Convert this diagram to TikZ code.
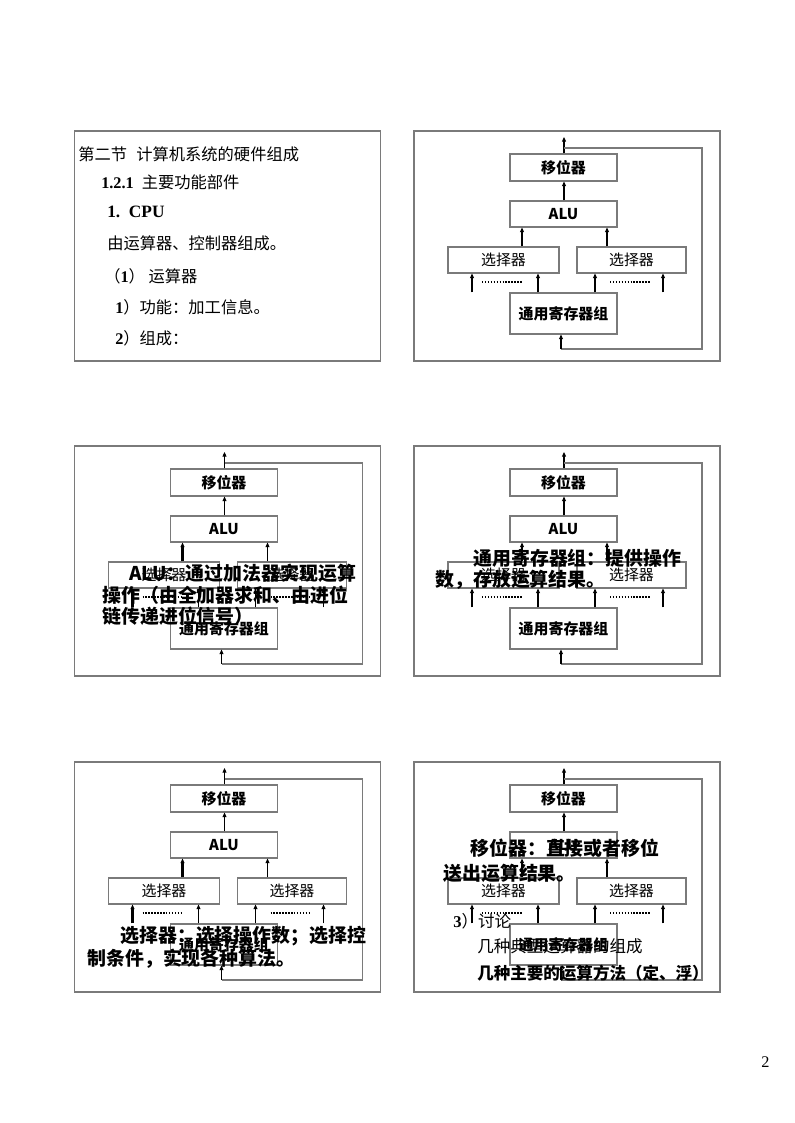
\documentclass[tikz,border=0pt]{standalone}
\usepackage{fontspec}
\setmainfont{Liberation Serif}
\newfontfamily\cjk{Noto Sans CJK SC}
\usetikzlibrary{arrows.meta,calc}
\definecolor{lg}{HTML}{7A7A7A}
\tikzset{
  x=0.75pt, y=-0.75pt,
  slideframe/.style={draw=lg, line width=1.4pt, inner sep=0pt, anchor=north west,
    minimum width=229.5pt, minimum height=172.5pt},
  blk/.style={draw=lg, line width=0.8pt, inner sep=0pt, font=\cjk\bfseries\fontsize{11.2}{13}\selectfont},
  blkr/.style={blk, font=\cjk\fontsize{11.2}{13}\selectfont},
  arr/.style={draw=black, line width=0.8pt, -{Triangle[length=3.5pt,width=3pt]}},
  arrthick/.style={arr, line width=1.7pt},
  dots/.style={draw=black, line width=1.5pt, dash pattern=on 1.1pt off 1.1pt},
  fbline/.style={draw=lg, line width=0.9pt},
  txt/.style={anchor=west, inner sep=0pt, font=\fontsize{12.2}{14}\selectfont},
  ovl/.style={anchor=west, inner sep=0pt, font=\cjk\bfseries\fontsize{14.2}{16}\selectfont},
}
\newcommand\cpudiagram{%
  \node[slideframe] (fr) at (0,0) {};
  \node[blk, minimum width=80.25pt, minimum height=20.25pt] (shf) at (150.5,37.5) {移位器};
  \node[blk, minimum width=80.25pt, minimum height=19.5pt] (alu) at (150.5,84) {ALU};
  \node[blkr, minimum width=83.25pt, minimum height=19.5pt] (selL) at (90.5,130) {选择器};
  \node[blkr, minimum width=81.75pt, minimum height=19.5pt] (selR) at (218.5,130) {选择器};
  \node[blk, minimum width=80.25pt, minimum height=30.75pt] (reg) at (150.5,183.5) {通用寄存器组};
  \coordinate (top) at (151,7);
  \draw[arr] (shf.north -| top) -- (top);
  \draw[arr] (alu.north -| top) -- (shf.south -| top);
  \coordinate (xa) at (109,0);
  \coordinate (xb) at (194,0);
  \draw[arrthick] (selL.north -| xa) -- (alu.south -| xa);
  \draw[arr] (selR.north -| xb) -- (alu.south -| xb);
  \coordinate (xi1) at (59,0);
  \coordinate (xi2) at (125,0);
  \coordinate (xi3) at (182,0);
  \coordinate (xi4) at (250,0);
  \draw[arrthick] (reg.north -| xi1) -- (selL.south -| xi1);
  \draw[arr] (reg.north -| xi2) -- (selL.south -| xi2);
  \draw[arr] (reg.north -| xi3) -- (selR.south -| xi3);
  \draw[arr] (reg.north -| xi4) -- (selR.south -| xi4);
  \coordinate (dl1) at (69,152);
  \coordinate (dl2) at (110,152);
  \coordinate (dr1) at (197,152);
  \coordinate (dr2) at (238,152);
  \draw[dots] (dl1) -- (dl2);
  \draw[dots] (dr1) -- (dr2);
  \coordinate (fb1) at (151,18);
  \coordinate (fb2) at (289,18);
  \coordinate (fb3) at (289,219);
  \coordinate (fb4) at (148,219);
  \draw[fbline] (fb1) -- (fb2) -- (fb3) -- (fb4);
  \draw[arr] (fb4) -- (reg.south -| fb4);
}
\begin{document}
\begin{tikzpicture}
\useasboundingbox[fill=white] (0,0) rectangle (794,1123);
% slide 1
\node[slideframe] (fr1) at (73.5,130) {};
\node[txt] (t1) at (78,154) {\cjk 第二节\hspace{7pt}计算机系统的硬件组成};
\node[txt] (t2) at (101,182) {\textbf{1.2.1}\hspace{6pt}{\cjk 主要功能部件}};
\node[txt] (t3) at (107,212) {\fontsize{13}{15}\selectfont\textbf{1.\ \ CPU}};
\node[txt] (t4) at (107,243) {\cjk 由运算器、控制器组成。};
\node[txt] (t5) at (104,276) {{\cjk （}\textbf{1}{\cjk ）\ 运算器}};
\node[txt] (t6) at (115,307) {\textbf{1}{\cjk ）功能：加工信息。}};
\node[txt] (t7) at (115,338) {\textbf{2}{\cjk ）组成：}};
% slide 2
\begin{scope}[shift={(413,130)}]
\cpudiagram
\end{scope}
% slide 3
\begin{scope}[shift={(73.5,445)}]
\cpudiagram
\end{scope}
\node[ovl] (o31) at (129,573) {ALU：通过加法器实现运算};
\node[ovl] (o32) at (102,595) {操作（由全加器求和、由进位};
\node[ovl] (o33) at (102,616) {链传递进位信号）};
% slide 4
\begin{scope}[shift={(413,445)}]
\cpudiagram
\end{scope}
\node[ovl] (o41) at (473,558) {通用寄存器组：提供操作};
\node[ovl] (o42) at (435,580) {数，存放运算结果。};
% slide 5
\begin{scope}[shift={(73.5,761)}]
\cpudiagram
\end{scope}
\node[ovl] (o51) at (120,936) {选择器：选择操作数；选择控};
\node[ovl] (o52) at (87,959) {制条件，实现各种算法。};
% slide 6
\begin{scope}[shift={(413,761)}]
\cpudiagram
\end{scope}
\node[ovl] (o61) at (470,848) {移位器：直接或者移位};
\node[ovl] (o62) at (443,873) {送出运算结果。};
\node[txt, font=\fontsize{12.4}{14}\selectfont] (o63) at (453,921) {\textbf{3}{\cjk ）讨论}};
\node[txt, font=\cjk\fontsize{12.4}{14}\selectfont] (o64) at (477,946) {几种典型运算器的组成};
\node[txt, font=\cjk\bfseries\fontsize{12.4}{14}\selectfont] (o65) at (477,973) {几种主要的运算方法（定、浮）};
% page number
\node[txt] (pg) at (761,1062) {2};
\end{tikzpicture}
\end{document}
